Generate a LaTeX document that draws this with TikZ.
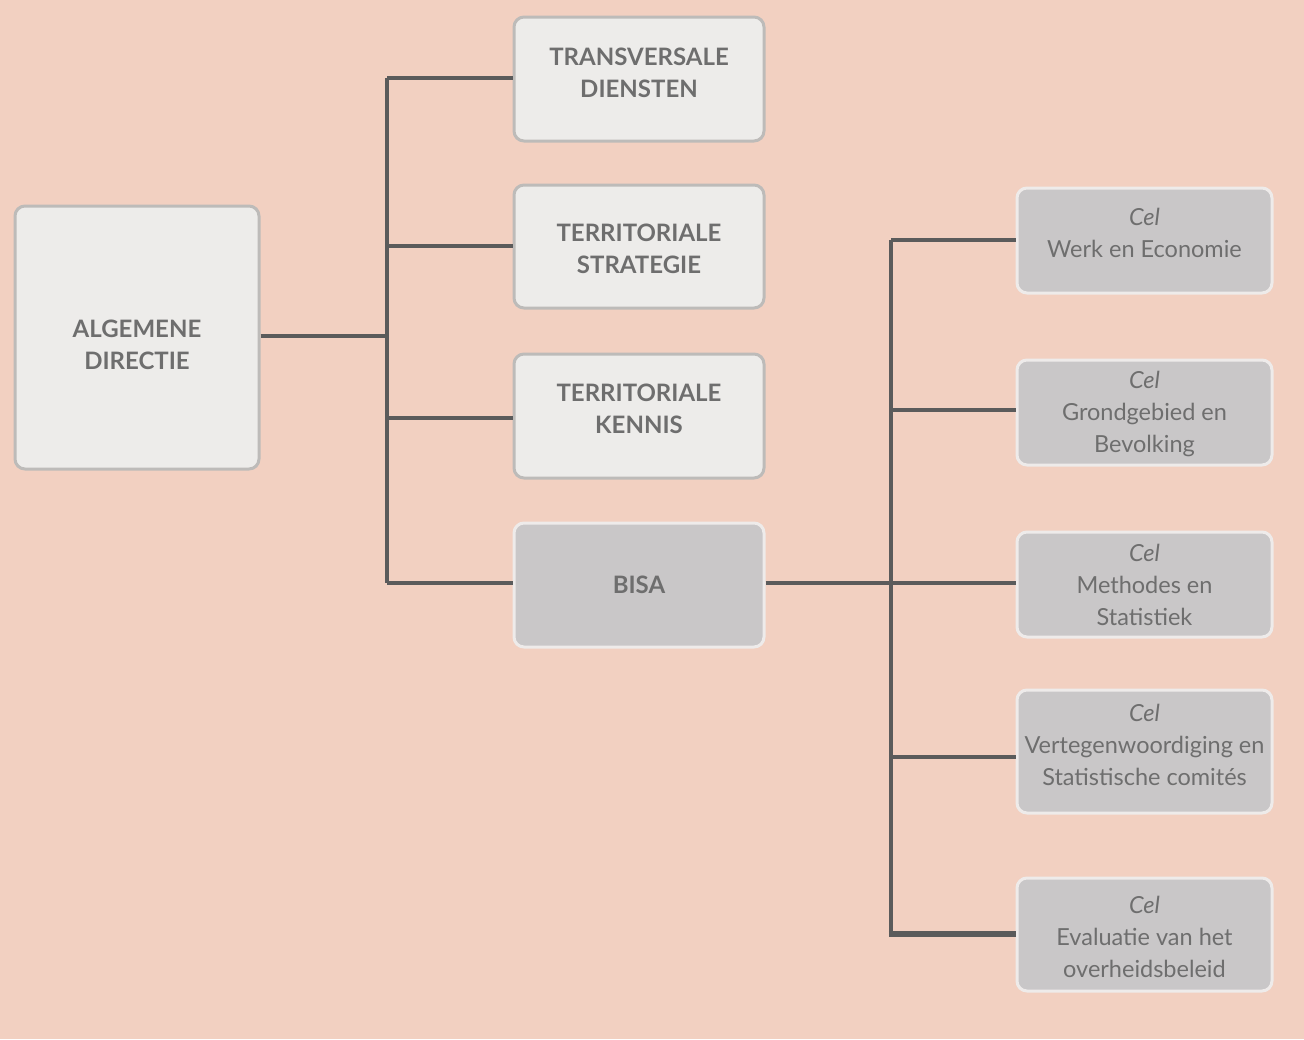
\documentclass[tikz,border=0pt]{standalone}
\usepackage{fontspec}
\setmainfont{Lato}
\definecolor{bg}{HTML}{F2D0C1}
\definecolor{lightfill}{HTML}{EDECEA}
\definecolor{lightborder}{HTML}{BDBBB9}
\definecolor{darkfill}{HTML}{C9C7C8}
\definecolor{darkborder}{HTML}{EEEBEA}
\definecolor{txt}{HTML}{6E6E6E}
\definecolor{conn}{HTML}{5B5B5B}
\begin{document}
\begin{tikzpicture}[x=1pt,y=-1pt,
  topbox/.style={draw=lightborder,fill=lightfill,line width=3pt,rounded corners=10pt,inner sep=0pt},
  subbox/.style={draw=darkborder,fill=darkfill,line width=3pt,rounded corners=10pt,inner sep=0pt},
  captxt/.style={text=txt,align=center,font=\fontsize{24}{32}\selectfont\bfseries,inner sep=0pt},
  celtxt/.style={text=txt,align=center,font=\fontsize{23.5}{32}\selectfont,inner sep=0pt},
  link/.style={draw=conn,line width=4.5pt}]
\fill[bg] (0,0) rectangle (1304,1039);
\useasboundingbox (0,0) rectangle (1304,1039);
% top-level boxes
\node[topbox,minimum width=244pt,minimum height=263pt] (ad) at (137,337.5) {};
\node[captxt] (adt) at (137,345) {ALGEMENE\\DIRECTIE};
\node[topbox,minimum width=250pt,minimum height=124pt] (td) at (639,79) {};
\node[captxt] (tdt) at (639,73) {TRANSVERSALE\\DIENSTEN};
\node[topbox,minimum width=250pt,minimum height=123pt] (ts) at (639,246.5) {};
\node[captxt] (tst) at (639,249) {TERRITORIALE\\STRATEGIE};
\node[topbox,minimum width=250pt,minimum height=124pt] (tk) at (639,416) {};
\node[captxt] (tkt) at (639,409) {TERRITORIALE\\KENNIS};
\node[subbox,minimum width=250pt,minimum height=124pt] (bisa) at (639,585) {};
\node[captxt] (bisat) at (639,585) {BISA};
% cells
\node[subbox,minimum width=255pt,minimum height=105pt] (c1) at (1144.5,240.5) {};
\node[celtxt] (c1t) at (1144.5,233) {\textit{Cel}\\Werk en Economie};
\node[subbox,minimum width=255pt,minimum height=105pt] (c2) at (1144.5,412.5) {};
\node[celtxt] (c2t) at (1144.5,414) {\textit{Cel}\\Grondgebied en\\Bevolking};
\node[subbox,minimum width=255pt,minimum height=105pt] (c3) at (1144.5,584.5) {};
\node[celtxt] (c3t) at (1144.5,585) {\textit{Cel}\\Methodes en\\Statistiek};
\node[subbox,minimum width=255pt,minimum height=123pt] (c4) at (1144.5,751.5) {};
\node[celtxt] (c4t) at (1144.5,745) {\textit{Cel}\\Vertegenwoordiging en\\Statistische comités};
\node[subbox,minimum width=255pt,minimum height=113pt] (c5) at (1144.5,934.5) {};
\node[celtxt] (c5t) at (1144.5,937) {\textit{Cel}\\Evaluatie van het\\overheidsbeleid};
% connectors
\coordinate (j1) at (387,336);
\coordinate (j2) at (891,583);
\draw[link] (ad.east |- j1) -- (j1);
\draw[link] (387,78) -- (387,583);
\draw[link] (387,78) -- (td.west |- 0,78);
\draw[link] (387,246) -- (ts.west |- 0,246);
\draw[link] (387,418) -- (tk.west |- 0,418);
\draw[link] (387,583) -- (bisa.west |- 0,583);
\draw[link] (bisa.east |- j2) -- (j2);
\draw[link] (891,240) -- (891,937);
\draw[link] (891,240) -- (c1.west |- 0,240);
\draw[link] (891,410) -- (c2.west |- 0,410);
\draw[link] (891,583) -- (c3.west |- 0,583);
\draw[link] (891,757) -- (c4.west |- 0,757);
\draw[link,line width=6pt] (888.75,934) -- (c5.west |- 0,934);
\end{tikzpicture}
\end{document}
